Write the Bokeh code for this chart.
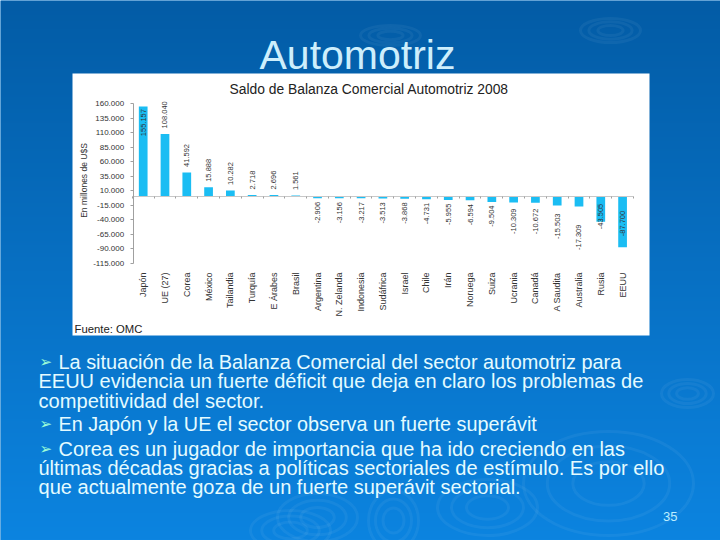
import numpy as np
from bokeh.plotting import figure
from bokeh.core.properties import value
from bokeh.models import (Range1d, LinearAxis, FixedTicker, ColumnDataSource, LabelSet, Label, BoxAnnotation)
from bokeh.embed import file_html
from bokeh.resources import INLINE

# ---------- data ----------
categories = ["Japón", "UE (27)", "Corea", "México", "Tailandia", "Turquía", "E Árabes", "Brasil",
              "Argentina", "N. Zelanda", "Indonesia", "Sudáfrica", "Israel", "Chile", "Irán",
              "Noruega", "Suiza", "Ucrania", "Canadá", "A Saudita", "Australia", "Rusia", "EEUU"]
saldo = [155157, 108040, 41592, 15888, 10282, 2718, 2696, 1561,
         -2906, -3156, -3217, -3513, -3868, -4731, -5955,
         -6594, -9504, -10309, -10672, -15503, -17309, -43505, -87700]
y_ticks = [160000, 135000, 110000, 85000, 60000, 35000, 10000, -15000, -40000, -65000, -90000, -115000]
heading = "Automotriz"
chart_title = "Saldo de Balanza Comercial Automotriz 2008"
y_title = "En millones de U$S"
source_note = "Fuente: OMC"
page_number = "35"
body_lines = [
    "La situación de la Balanza Comercial del sector automotriz para",
    "EEUU evidencia un fuerte déficit que deja en claro los problemas de",
    "competitividad del sector.",
    "En Japón y la UE el sector observa un fuerte superávit",
    "Corea es un jugador de importancia que ha ido creciendo en las",
    "últimas décadas gracias a políticas sectoriales de estímulo. Es por ello",
    "que actualmente goza de un fuerte superávit sectorial.",
]


def fmt(v):
    return f"{v:,}".replace(",", ".")


# ---------- page geometry (page pixels -> data) ----------
W, H = 720, 540
OFF = 0
X0, DX = 142.7, 21.79          # page x of first bar, pixels per category
Y0, DY = 196.0, 159.4 / 275000  # page y of zero, pixels per unit


def dx(px):
    return (px - X0) / DX


def dy(py):
    return (Y0 - py) / DY


p = figure(width=W, height=H, output_backend="svg", toolbar_location=None,
           x_axis_type=None, y_axis_type=None,
           x_range=Range1d(dx(OFF), dx(OFF + W)), y_range=Range1d(dy(OFF + H), dy(OFF)),
           min_border=0, outline_line_color=None, border_fill_color="#0a78cc",
           background_fill_color="#0a78cc")
p.grid.visible = False

# gradient background
rows = 270
c0, c1 = np.array([3, 92, 166]), np.array([12, 132, 224])
img = np.zeros((rows, 1), dtype=np.uint32)
view = img.view(dtype=np.uint8).reshape((rows, 1, 4))
for i in range(rows):
    t = i / (rows - 1)          # image row 0 is at the bottom
    col = c1 + (c0 - c1) * t
    view[i, 0] = [int(col[0]), int(col[1]), int(col[2]), 255]
p.image_rgba(image=[img], x=dx(OFF), y=dy(OFF + H), dw=dx(OFF + W) - dx(OFF), dh=dy(OFF) - dy(OFF + H), level="image")

# decorative ripples
ripple_c = [(687, 393), (608, 483), (487, 507), (317, 517), (393, 520), (290, 530), (610, 30), (390, 35)]
ripple_r = [(26, 14), (85, 52), (50, 28), (40, 24), (25, 30), (40, 20), (30, 12), (30, 10)]
rx, ry, rw, rh = [], [], [], []
for (cx, cy), (a, b) in zip(ripple_c, ripple_r):
    for f in (1.0, 0.72, 0.42):
        rx.append(dx(cx)); ry.append(dy(cy))
        rw.append(2 * a * f / DX); rh.append(2 * b * f / DY)
p.ellipse(x=rx, y=ry, width=rw, height=rh, fill_color=None, line_color="#ffffff", line_alpha=0.05,
          line_width=3, level="image")

# heading, behind the white panel
p.add_layout(Label(x=dx(357), y=dy(54.5), text=heading, text_font="Liberation Sans", text_font_size="41px",
                   text_color="#cdeefc", text_align="center", text_baseline="middle", level="image"))

# white panel
p.add_layout(BoxAnnotation(left=dx(72), right=dx(649), top=dy(73), bottom=dy(335), fill_color="#ffffff",
                           fill_alpha=1, line_color=None, level="underlay"))

# bars
p.vbar(x=list(range(len(saldo))), top=saldo, bottom=0, width=0.4, fill_color="#1bbdf3", line_color=None)

# axes
grey = "#a0a0a0"
txt = "#333333"
lab_font = "Liberation Sans"
yax = LinearAxis(fixed_location=-0.46, bounds=(min(y_ticks), max(y_ticks)),
                 ticker=FixedTicker(ticks=y_ticks),
                 major_label_overrides={t: fmt(t) for t in y_ticks},
                 major_tick_in=0, major_tick_out=3, minor_tick_line_color=None,
                 axis_line_color=grey, major_tick_line_color=grey,
                 major_label_standoff=6, major_label_text_font=lab_font,
                 major_label_text_font_size="8px", major_label_text_color=txt)
p.add_layout(yax, "left")

xax = LinearAxis(fixed_location=0, bounds=(-0.5, len(saldo) - 0.5),
                 ticker=FixedTicker(ticks=[i - 0.5 for i in range(len(saldo) + 1)]),
                 major_tick_in=0, major_tick_out=2, minor_tick_line_color=None,
                 axis_line_color="#c8c8c8", major_tick_line_color=grey,
                 major_label_text_color=None)
p.add_layout(xax, "below")

cat_ax = LinearAxis(fixed_location=dy(263), ticker=FixedTicker(ticks=list(range(len(saldo)))),
                    major_label_overrides={i: c for i, c in enumerate(categories)},
                    major_label_orientation=np.pi / 2, axis_line_color=None, major_tick_line_color=None,
                    minor_tick_line_color=None, major_label_standoff=3, major_label_text_font=lab_font,
                    major_label_text_font_size="9px", major_label_text_color=txt)
p.add_layout(cat_ax, "below")

# value labels
shift_special = {"Japón": -2.5, "Rusia": 18, "EEUU": 36.5, "Suiza": -3.5, "Ucrania": -6, "Canadá": -6,
                 "A Saudita": -8, "Australia": -18}
shifts = []
aligns = []
for c, v in zip(categories, saldo):
    aligns.append("left" if v > 0 and c != "Japón" else "right")
    shifts.append(shift_special.get(c, 5.5 if v > 0 else -3.7))
src = ColumnDataSource(dict(x=list(range(len(saldo))), y=saldo, t=[fmt(v) for v in saldo],
                            off=shifts, al=aligns))
p.add_layout(LabelSet(x="x", y="y", text="t", source=src, angle=np.pi / 2, y_offset="off", text_align="al",
                      text_baseline="middle", text_font=value(lab_font), text_font_size=value("7.5px"),
                      text_color=txt))

# chart texts
p.add_layout(Label(x=dx(229), y=dy(88), text=chart_title, text_font=lab_font, text_font_size="13.85px",
                   text_color="#222222", text_baseline="middle"))
p.add_layout(Label(x=dx(83), y=dy(180), text=y_title, angle=np.pi / 2, text_font=lab_font, text_font_size="8.5px",
                   text_color=txt, text_align="center", text_baseline="middle"))
p.add_layout(Label(x=dx(74), y=dy(328), text=source_note, text_font=lab_font, text_font_size="11.3px",
                   text_color="#222222", text_baseline="middle"))

# body text
line_y = [361, 380, 400, 423, 448, 467, 486]
line_x = [58, 38, 38, 58, 58, 38, 38]
line_px = [19.9, 20.0, 20.1, 19.8, 19.95, 20.0, 20.05]
for s, lx, ly, fs in zip(body_lines, line_x, line_y, line_px):
    p.add_layout(Label(x=dx(lx), y=dy(ly), text=s, text_font=lab_font, text_font_size=f"{fs}px",
                       text_color="#e4fbff", text_baseline="middle"))
for ly in (361, 423, 448):
    p.add_layout(Label(x=dx(39), y=dy(ly), text="➢", text_font="DejaVu Sans", text_font_size="15px",
                       text_color="#9fffd8", text_baseline="middle"))
p.add_layout(Label(x=dx(677), y=dy(516), text=page_number, text_font=lab_font, text_font_size="13px",
                   text_color="#bdeeff", text_align="right", text_baseline="middle"))

open("out.html", "w").write(file_html(p, INLINE))
